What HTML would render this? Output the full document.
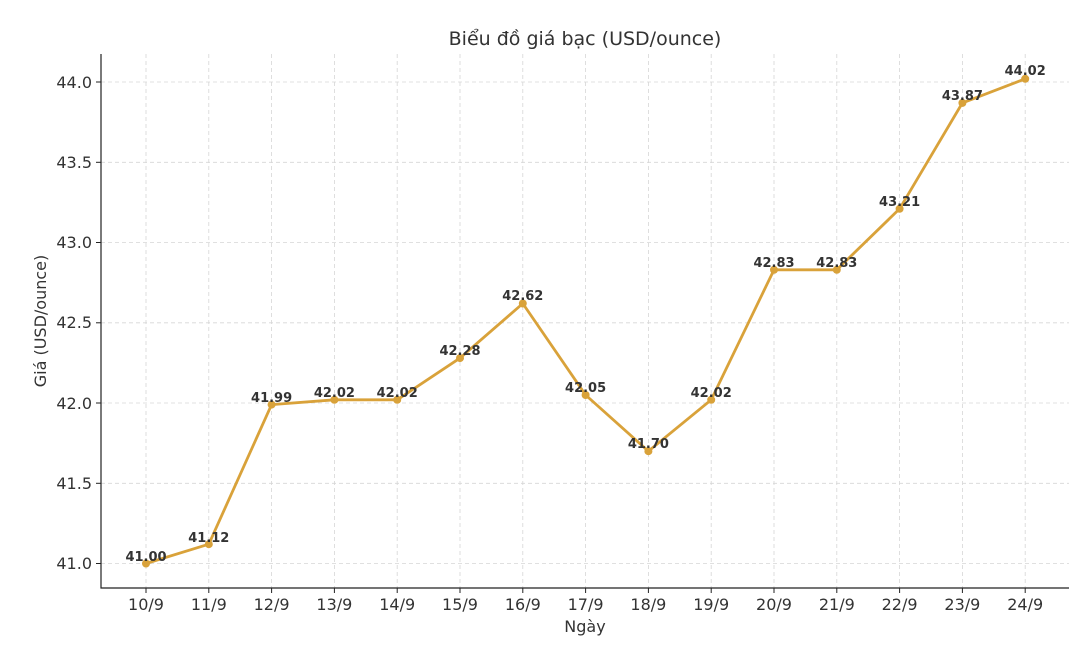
<!DOCTYPE html>
<html><head><meta charset="utf-8"><style>body{margin:0;background:#fff}svg{display:block}</style></head><body>
<svg width="1076" height="646" xmlns="http://www.w3.org/2000/svg" font-family="'DejaVu Sans','Liberation Sans',sans-serif">
<rect width="1076" height="646" fill="#fff"/>
<g stroke="#d6d6d6" stroke-dasharray="4,3" stroke-width="0.8">
<line x1="146" y1="54" x2="146" y2="588"/><line x1="208.8" y1="54" x2="208.8" y2="588"/><line x1="271.6" y1="54" x2="271.6" y2="588"/><line x1="334.4" y1="54" x2="334.4" y2="588"/><line x1="397.2" y1="54" x2="397.2" y2="588"/><line x1="460" y1="54" x2="460" y2="588"/><line x1="522.8" y1="54" x2="522.8" y2="588"/><line x1="585.6" y1="54" x2="585.6" y2="588"/><line x1="648.4" y1="54" x2="648.4" y2="588"/><line x1="711.2" y1="54" x2="711.2" y2="588"/><line x1="774" y1="54" x2="774" y2="588"/><line x1="836.8" y1="54" x2="836.8" y2="588"/><line x1="899.6" y1="54" x2="899.6" y2="588"/><line x1="962.4" y1="54" x2="962.4" y2="588"/><line x1="1025.2" y1="54" x2="1025.2" y2="588"/>
<line x1="101" y1="563.5" x2="1069" y2="563.5"/><line x1="101" y1="483.3" x2="1069" y2="483.3"/><line x1="101" y1="403" x2="1069" y2="403"/><line x1="101" y1="322.8" x2="1069" y2="322.8"/><line x1="101" y1="242.5" x2="1069" y2="242.5"/><line x1="101" y1="162.3" x2="1069" y2="162.3"/><line x1="101" y1="82" x2="1069" y2="82"/>
</g>
<path d="M101 54V588H1069" fill="none" stroke="#222" stroke-width="1.2"/>
<g stroke="#222" stroke-width="1">
<line x1="96" y1="563.5" x2="101" y2="563.5"/><line x1="96" y1="483.3" x2="101" y2="483.3"/><line x1="96" y1="403" x2="101" y2="403"/><line x1="96" y1="322.8" x2="101" y2="322.8"/><line x1="96" y1="242.5" x2="101" y2="242.5"/><line x1="96" y1="162.3" x2="101" y2="162.3"/><line x1="96" y1="82" x2="101" y2="82"/>
<line x1="146" y1="588" x2="146" y2="593"/><line x1="208.8" y1="588" x2="208.8" y2="593"/><line x1="271.6" y1="588" x2="271.6" y2="593"/><line x1="334.4" y1="588" x2="334.4" y2="593"/><line x1="397.2" y1="588" x2="397.2" y2="593"/><line x1="460" y1="588" x2="460" y2="593"/><line x1="522.8" y1="588" x2="522.8" y2="593"/><line x1="585.6" y1="588" x2="585.6" y2="593"/><line x1="648.4" y1="588" x2="648.4" y2="593"/><line x1="711.2" y1="588" x2="711.2" y2="593"/><line x1="774" y1="588" x2="774" y2="593"/><line x1="836.8" y1="588" x2="836.8" y2="593"/><line x1="899.6" y1="588" x2="899.6" y2="593"/><line x1="962.4" y1="588" x2="962.4" y2="593"/><line x1="1025.2" y1="588" x2="1025.2" y2="593"/>
</g>
<g font-size="16" fill="#333" text-anchor="end">
<text x="92" y="569">41.0</text><text x="92" y="489">41.5</text><text x="92" y="409">42.0</text><text x="92" y="328">42.5</text><text x="92" y="248">43.0</text><text x="92" y="168">43.5</text><text x="92" y="88">44.0</text>
</g>
<g font-size="16" fill="#333" text-anchor="middle">
<text x="146" y="610">10/9</text><text x="208.8" y="610">11/9</text><text x="271.6" y="610">12/9</text><text x="334.4" y="610">13/9</text><text x="397.2" y="610">14/9</text><text x="460" y="610">15/9</text><text x="522.8" y="610">16/9</text><text x="585.6" y="610">17/9</text><text x="648.4" y="610">18/9</text><text x="711.2" y="610">19/9</text><text x="774" y="610">20/9</text><text x="836.8" y="610">21/9</text><text x="899.6" y="610">22/9</text><text x="962.4" y="610">23/9</text><text x="1025.2" y="610">24/9</text>
<text x="585" y="632">Ngày</text>
<text x="585" y="45" font-size="19">Biểu đồ giá bạc (USD/ounce)</text>
<text transform="translate(46 321) rotate(-90)">Giá (USD/ounce)</text>
</g>
<polyline fill="none" stroke="#d9a23a" stroke-width="2.8" stroke-linejoin="round" points="146,563.5 208.8,544.2 271.6,404.6 334.4,399.8 397.2,399.8 460,358.1 522.8,303.5 585.6,395 648.4,451.2 711.2,399.8 774,269.8 836.8,269.8 899.6,208.8 962.4,102.9 1025.2,78.8"/>
<g fill="#d9a23a">
<circle cx="146" cy="563.5" r="4"/><circle cx="208.8" cy="544.2" r="4"/><circle cx="271.6" cy="404.6" r="4"/><circle cx="334.4" cy="399.8" r="4"/><circle cx="397.2" cy="399.8" r="4"/><circle cx="460" cy="358.1" r="4"/><circle cx="522.8" cy="303.5" r="4"/><circle cx="585.6" cy="395" r="4"/><circle cx="648.4" cy="451.2" r="4"/><circle cx="711.2" cy="399.8" r="4"/><circle cx="774" cy="269.8" r="4"/><circle cx="836.8" cy="269.8" r="4"/><circle cx="899.6" cy="208.8" r="4"/><circle cx="962.4" cy="102.9" r="4"/><circle cx="1025.2" cy="78.8" r="4"/>
</g>
<g font-size="13" font-weight="bold" fill="#333" text-anchor="middle">
<text x="146" y="561">41.00</text><text x="208.8" y="542">41.12</text><text x="271.6" y="402">41.99</text><text x="334.4" y="397">42.02</text><text x="397.2" y="397">42.02</text><text x="460" y="355">42.28</text><text x="522.8" y="300">42.62</text><text x="585.6" y="392">42.05</text><text x="648.4" y="448">41.70</text><text x="711.2" y="397">42.02</text><text x="774" y="267">42.83</text><text x="836.8" y="267">42.83</text><text x="899.6" y="206">43.21</text><text x="962.4" y="100">43.87</text><text x="1025.2" y="75">44.02</text>
</g>
</svg>
</body></html>
